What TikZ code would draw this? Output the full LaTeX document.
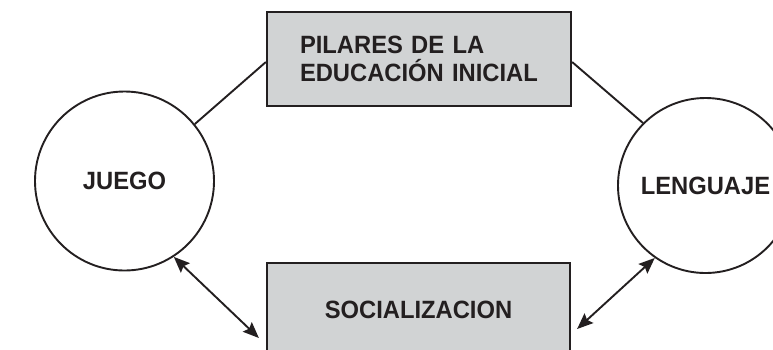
\documentclass[tikz,border=0pt]{standalone}
\usepackage{fontspec}
\setmainfont{Liberation Sans}[FakeStretch=0.95]
\usetikzlibrary{arrows.meta}
\definecolor{ink}{HTML}{231F20}
\definecolor{boxgray}{HTML}{D1D3D4}
\tikzset{
  lbl/.style={font=\bfseries\fontsize{25pt}{28pt}\selectfont, text=ink},
  pillar/.style={draw=ink, line width=2.2pt, fill=boxgray, minimum width=304pt, minimum height=94pt, inner sep=0pt, lbl},
  ring/.style={draw=ink, line width=1.9pt, circle, inner sep=0pt, lbl},
  link/.style={draw=ink, line width=1.9pt},
  dlink/.style={link, {Stealth[length=16pt,width=13pt,inset=2.5pt]}-{Stealth[length=16pt,width=13pt,inset=2.5pt]}}
}
\begin{document}
\begin{tikzpicture}[x=1pt,y=-1pt]
\useasboundingbox (0,0) rectangle (773,349);
\clip (0,0) rectangle (773,349);
\node[pillar, text width=238pt, align=left] (top) at (419,59) {PILARES DE LA\\EDUCACIÓN INICIAL};
\node[pillar, minimum width=303pt] (soc) at (418.5,310) {SOCIALIZACION};
\node[ring, minimum size=179pt] (juego) at (124.5,181) {JUEGO};
\node[ring, minimum size=175pt] (leng) at (705.5,185.5) {LENGUAJE};
\draw[link] (juego.39) -- ([yshift=-3pt]top.west);
\draw[link] (leng.135) -- ([yshift=-3pt]top.east);
\draw[dlink] (juego.-57) -- ([xshift=-7pt,yshift=-28pt]soc.west);
\draw[dlink] (leng.235) -- ([xshift=6pt,yshift=-19pt]soc.east);
\end{tikzpicture}
\end{document}
